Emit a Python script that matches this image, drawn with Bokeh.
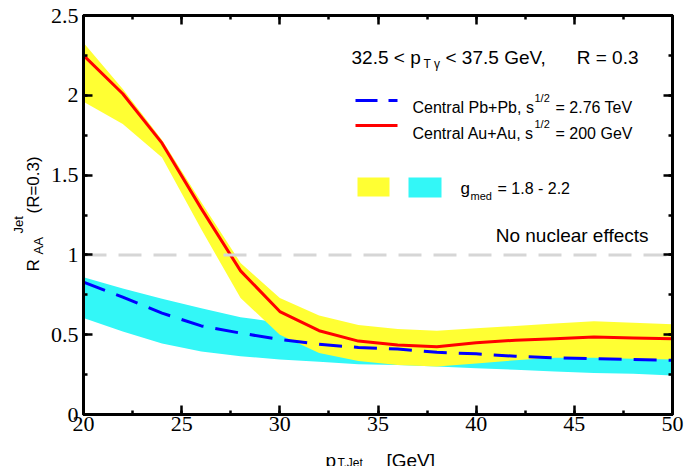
import math

from bokeh.embed import file_html
from bokeh.layouts import column, row
from bokeh.models import (BoxAnnotation, Label, LinearAxis, Range1d,
                          SingleIntervalTicker, Span)
from bokeh.plotting import figure
from bokeh.resources import INLINE

# Jet transverse momentum grid [GeV]
pt_jet = [20, 22, 24, 26, 28, 30, 32, 34, 36, 38, 40, 42, 44, 46, 48, 50]

# Central Au+Au, sqrt(s) = 200 GeV: central curve and g_med = 1.8 - 2.2 band
auau_central = [2.25, 2.01, 1.70, 1.29, 0.90, 0.645, 0.525, 0.46, 0.435, 0.425,
                0.45, 0.465, 0.475, 0.485, 0.48, 0.475]
auau_upper = [2.33, 2.04, 1.72, 1.33, 0.95, 0.73, 0.62, 0.56, 0.535, 0.525,
              0.54, 0.555, 0.57, 0.585, 0.575, 0.565]
auau_lower = [1.96, 1.82, 1.61, 1.16, 0.73, 0.50, 0.385, 0.335, 0.31, 0.30,
              0.32, 0.34, 0.355, 0.355, 0.35, 0.345]

# Central Pb+Pb, sqrt(s) = 2.76 TeV: central curve and g_med band
pbpb_central = [0.83, 0.735, 0.635, 0.555, 0.51, 0.47, 0.44, 0.42, 0.41, 0.39,
                0.38, 0.365, 0.355, 0.35, 0.345, 0.34]
pbpb_upper = [0.86, 0.79, 0.725, 0.665, 0.61, 0.575, 0.55, 0.52, 0.50, 0.48,
              0.47, 0.46, 0.45, 0.44, 0.435, 0.43]
pbpb_lower = [0.605, 0.52, 0.445, 0.395, 0.365, 0.345, 0.33, 0.315, 0.31, 0.30,
              0.29, 0.28, 0.27, 0.26, 0.255, 0.245]

# Reference level (no nuclear effects)
no_effect_level = 1.0

x_ticks = [20, 25, 30, 35, 40, 45, 50]
x_tick_labels = ["20", "25", "30", "35", "40", "45", "50"]
y_ticks = [0, 0.5, 1, 1.5, 2, 2.5]
y_tick_labels = ["0", "0.5", "1", "1.5", "2", "2.5"]

YELLOW = "#ffff33"
CYAN = "#33f7f7"
SANS = "Liberation Sans"
SERIF = "Liberation Serif"

# page geometry (pixels)
W, H = 686, 466
TITLE_W = 44          # strip holding the vertical axis title
TITLE_H = 25          # strip holding the horizontal axis title
MAIN_W, MAIN_H = W - TITLE_W, H - TITLE_H
FL, FR, FT, FB = 83, 672, 15, 414   # plot frame edges on the page

p = figure(width=MAIN_W, height=MAIN_H,
           x_range=Range1d(20, 50), y_range=Range1d(0, 2.5),
           output_backend="svg", toolbar_location=None,
           min_border_left=FL - TITLE_W, min_border_right=W - FR,
           min_border_top=FT, min_border_bottom=MAIN_H - FB)
p.xgrid.visible = False
p.ygrid.visible = False
p.outline_line_color = "black"
p.outline_line_width = 3
p.background_fill_color = "white"
p.border_fill_color = "white"

p.add_layout(LinearAxis(), "above")
p.add_layout(LinearAxis(), "right")


def style_axis(ax, ticks, labels, interval, show_labels):
    ax.ticker = SingleIntervalTicker(interval=interval, num_minor_ticks=2)
    ax.axis_line_width = 3
    ax.axis_line_color = "black"
    ax.major_tick_in = 9
    ax.major_tick_out = 0
    ax.minor_tick_in = 4
    ax.minor_tick_out = 0
    ax.major_tick_line_width = 2.5
    ax.minor_tick_line_width = 2.5
    ax.major_tick_line_color = "black"
    ax.minor_tick_line_color = "black"
    ax.major_label_text_font = SERIF
    if show_labels:
        ax.major_label_overrides = {t: l for t, l in zip(ticks, labels)}
        ax.major_label_text_font_size = "22px"
        ax.major_label_text_color = "black"
    else:
        # mirrored axis: ticks only
        ax.major_label_text_font_size = "1px"
        ax.major_label_text_color = None
        ax.major_label_standoff = 0


for ax in p.below:
    style_axis(ax, x_ticks, x_tick_labels, 5, True)
    ax.major_label_standoff = 2
for ax in p.above:
    style_axis(ax, x_ticks, x_tick_labels, 5, False)
for ax in p.left:
    style_axis(ax, y_ticks, y_tick_labels, 0.5, True)
    ax.major_label_standoff = 5
for ax in p.right:
    style_axis(ax, y_ticks, y_tick_labels, 0.5, False)

# g_med uncertainty bands
p.varea(x=pt_jet, y1=pbpb_lower, y2=pbpb_upper, fill_color=CYAN)
p.varea(x=pt_jet, y1=auau_lower, y2=auau_upper, fill_color=YELLOW)

# no-nuclear-effects reference
ref = Span(location=no_effect_level, dimension="width", line_color="#d6d6d6",
           line_width=3, line_dash="23 12", level="glyph")
p.add_layout(ref)

# central curves
p.line(pt_jet, pbpb_central, line_color="#0000ff", line_width=3, line_dash="23 12")
p.line(pt_jet, auau_central, line_color="#ff0000", line_width=3)


def txt(fig, text, sx, sy, size, align="left", font=SANS, angle=0.0):
    fig.add_layout(Label(x=sx, y=sy, x_units="screen", y_units="screen",
                         text=text, text_font=font,
                         text_font_size=f"{size}px", text_color="black",
                         text_align=align, text_baseline="alphabetic",
                         angle=angle))


def ptxt(text, px, py, size, align="left"):
    """Text inside the main frame, placed by page pixel."""
    txt(p, text, px - FL, FB - py, size, align)


def box(left, right, top, bottom, color):
    p.add_layout(BoxAnnotation(left=left - FL, right=right - FL,
                               top=FB - top, bottom=FB - bottom,
                               left_units="screen", right_units="screen",
                               top_units="screen", bottom_units="screen",
                               fill_color=color, fill_alpha=1.0,
                               line_color=None, level="annotation"))


# kinematic selection
ptxt("32.5 < p", 351, 57, 19)
ptxt("T \u03b3", 423, 63, 12)
ptxt("< 37.5 GeV,", 445, 57, 19)
ptxt("R = 0.3", 638, 57, 19, align="right")

# legend: curves
box(355, 377, 98.5, 101.5, "#0000ff")
box(388, 397, 98.5, 101.5, "#0000ff")
ptxt("Central Pb+Pb, s", 412, 107, 16)
ptxt("1/2", 534, 97, 11)
ptxt("= 2.76 TeV", 555, 107, 16)

box(355, 397, 123.5, 126.5, "#ff0000")
ptxt("Central Au+Au, s", 412, 133, 16)
ptxt("1/2", 534, 123, 11)
ptxt("= 200 GeV", 555, 133, 16)

# legend: bands
box(357, 389, 177, 196, YELLOW)
box(408, 441, 177, 197, CYAN)
ptxt("g", 460, 188, 17)
ptxt("med", 470, 195, 11)
ptxt("= 1.8 - 2.2", 497, 188, 16)

ptxt("No nuclear effects", 648, 235, 19, align="right")


def strip(w, h):
    s = figure(width=w, height=h, x_range=Range1d(0, w), y_range=Range1d(0, h),
               title=None, x_axis_location=None, y_axis_location=None,
               output_backend="svg", toolbar_location=None,
               min_border=0, min_border_left=0, min_border_right=0,
               min_border_top=0, min_border_bottom=0)
    s.outline_line_color = None
    s.grid.visible = False
    s.background_fill_color = "white"
    s.border_fill_color = "white"
    return s


# vertical axis title: R_AA^Jet(R=0.3); this strip's frame lines up with
# the main frame (page rows FT..FB)
ytitle = strip(TITLE_W, MAIN_H)
up = math.pi / 2
txt(ytitle, "R", 33, FB - 271, 17, angle=up)
txt(ytitle, "AA", 38, FB - 254, 13, angle=up)
txt(ytitle, "Jet", 18, FB - 233, 13, angle=up)
txt(ytitle, "(R=0.3)", 33, FB - 213, 17, angle=up)

# horizontal axis title: p_T,Jet [GeV]
xtitle = strip(W, TITLE_H)
txt(xtitle, "p", 325, H - 460, 19)
txt(xtitle, "T,Jet", 337, H - 462.5, 12)
txt(xtitle, "[GeV]", 386, H - 460, 19)

page = column(row(ytitle, p), xtitle)

open("out.html", "w").write(file_html(page, INLINE))
